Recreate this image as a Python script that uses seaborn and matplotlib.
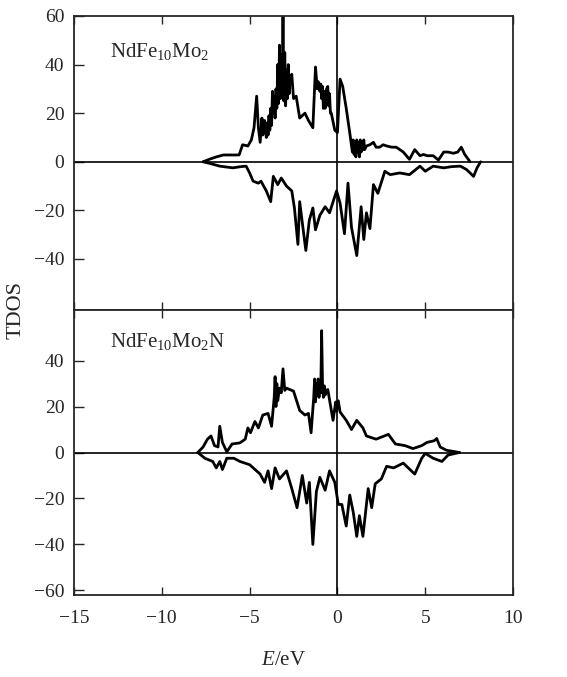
import matplotlib
matplotlib.use("Agg")
import matplotlib.pyplot as plt
import numpy as np
import pandas as pd
import seaborn as sns

# NdFe10Mo2 spin up
e_up1 = [-7.65, -7.3, -6.9, -6.5, -6.15, -5.6, -5.4, -5.1, -4.9, -4.75, -4.6, -4.5, -4.4, -4.3,
         -4.25, -4.15, -4.05, -4.0, -3.95, -3.9, -3.85, -3.8, -3.75, -3.7, -3.65, -3.6, -3.55,
         -3.5, -3.45, -3.4, -3.35, -3.3, -3.25, -3.2, -3.15, -3.1, -3.05, -3.0, -2.95, -2.9,
         -2.85, -2.8, -2.75, -2.7, -2.6, -2.5, -2.35, -2.15, -2.0, -1.85, -1.65, -1.4, -1.25,
         -1.15, -1.1, -1.0, -0.95, -0.9, -0.85, -0.8, -0.75, -0.7, -0.62, -0.55, -0.5, -0.45,
         -0.4, -0.35, -0.15, 0.0, 0.15, 0.3, 0.5, 0.7, 0.85, 0.9, 0.95, 1.0, 1.05, 1.1, 1.15,
         1.2, 1.25, 1.3, 1.35, 1.4, 1.45, 1.5, 1.55, 1.65, 1.85, 2.05, 2.2, 2.4, 2.6, 2.8, 3.1,
         3.35, 3.55, 3.75, 4.1, 4.4, 4.7, 4.9, 5.1, 5.45, 5.75, 6.05, 6.3, 6.6, 6.85, 7.05,
         7.25, 7.55]
dos_up1 = [0, 1.0, 2.0, 2.8, 2.8, 2.8, 7.0, 6.5, 9.0, 14, 27, 14, 8.0, 18, 11, 17, 10, 16, 11, 19,
           13, 22, 15, 29, 20, 27, 18, 30, 22, 40, 24, 48, 26, 44, 27, 60, 25, 45, 23, 38, 26,
           40, 28, 34, 36, 26, 27, 18, 19, 20, 17, 14, 39, 30, 33, 29, 32, 26, 31, 22, 29, 22,
           30, 31, 23, 28, 20, 20, 13, 12, 34, 31, 22, 12, 4, 9, 3, 8, 2, 9, 4, 8, 2, 9, 4, 8,
           5, 9, 5, 6.5, 7, 8, 6, 6, 7, 6.5, 6, 6, 5, 4, 1, 5, 2.5, 3, 2.5, 2.5, 0.7, 4, 4, 3.5,
           4, 6, 3, 0]

# NdFe10Mo2 spin down
e_dn1 = [-7.65, -7.2, -6.7, -5.95, -5.5, -5.2, -5.0, -4.8, -4.5, -4.35, -4.05, -3.8, -3.65, -3.4,
         -3.2, -2.9, -2.6, -2.45, -2.25, -2.15, -1.95, -1.8, -1.6, -1.4, -1.25, -1.0, -0.7,
         -0.45, -0.05, 0.15, 0.4, 0.6, 0.8, 1.1, 1.35, 1.5, 1.65, 1.85, 2.05, 2.3, 2.7, 3.0,
         3.55, 4.1, 4.7, 5.0, 5.45, 6.05, 6.5, 7.0, 7.35, 7.75, 7.95, 8.15]
dos_dn1 = [0, -0.8, -1.8, -2.5, -2.0, -1.8, -4.6, -8.0, -8.8, -8.0, -12, -16.4, -6.0, -9.4, -6.7,
           -10, -12, -19, -34, -16.4, -28, -36.5, -24, -19, -28, -22, -18.5, -21, -12, -17,
           -29.6, -8.8, -27, -38.6, -18.5, -32, -21, -27.5, -9.4, -13, -3.9, -5.3, -4.6, -5.3,
           -1.8, -3.9, -1.8, -2.5, -2.0, -1.8, -3.2, -6.0, -2.5, 0]

# NdFe10Mo2N spin up
e_up2 = [-7.95, -7.65, -7.4, -7.2, -7.0, -6.8, -6.7, -6.55, -6.3, -6.0, -5.55, -5.25, -5.1, -4.95,
         -4.7, -4.5, -4.25, -3.95, -3.75, -3.6, -3.55, -3.5, -3.45, -3.4, -3.3, -3.2, -3.1,
         -3.0, -2.9, -2.5, -2.15, -1.85, -1.65, -1.5, -1.35, -1.3, -1.25, -1.2, -1.15, -1.1,
         -1.05, -1.0, -0.95, -0.9, -0.85, -0.8, -0.75, -0.7, -0.65, -0.55, -0.25, -0.1, -0.05,
         0.05, 0.15, 0.5, 0.8, 1.1, 1.45, 1.65, 2.2, 2.9, 3.3, 3.85, 4.3, 4.8, 5.1, 5.5, 5.65,
         5.85, 6.2, 6.95]
dos_up2 = [0, 2.4, 5.8, 7.2, 3.0, 2.4, 11.4, 4.4, 0.3, 3.7, 4.2, 5.8, 10.7, 8.6, 13.5, 10.7, 16.3,
           17, 11.4, 24, 33, 20, 30, 22.5, 28, 26, 36.4, 27, 28, 26.7, 18.3, 16.3, 17, 8.6, 24,
           32, 22, 30, 25, 32, 24, 30, 26, 53, 30, 24, 29, 25, 27, 27.4, 14, 22, 18, 22.5, 17.6,
           14, 10, 14, 10.7, 7.2, 5.8, 7.9, 3.7, 3.0, 1.7, 3.0, 4.4, 5.1, 6.1, 2.4, 1.0, 0]

# NdFe10Mo2N spin down
e_dn2 = [-7.95, -7.55, -7.1, -6.9, -6.7, -6.55, -6.3, -5.9, -5.55, -5.0, -4.4, -4.15, -3.95, -3.75,
         -3.55, -3.3, -2.9, -2.6, -2.3, -2.0, -1.75, -1.6, -1.4, -1.2, -1.0, -0.7, -0.45, -0.15,
         0.05, 0.25, 0.5, 0.7, 0.9, 1.1, 1.25, 1.45, 1.75, 1.95, 2.15, 2.5, 2.8, 3.2, 3.75,
         4.4, 4.8, 5.0, 5.45, 5.95, 6.3, 6.95]
dos_dn2 = [0, -2.5, -3.9, -6.7, -3.9, -7.4, -2.5, -2.5, -3.9, -5.3, -9.4, -13, -8, -15.7, -6.7,
           -11.5, -8, -15.7, -24, -10, -22, -13, -40, -17, -10.8, -16.4, -8, -13, -22.6, -22.6,
           -32, -18.5, -26, -36.5, -27.5, -36.5, -15.7, -24, -13.6, -11.5, -6, -6.7, -4.6, -9.4,
           -2.5, -0.4, -2.5, -3.9, -1.1, 0]

labels = [r"NdFe$_{10}$Mo$_2$", r"NdFe$_{10}$Mo$_2$N"]

sns.set_style("ticks")
plt.rcParams["font.family"] = ["Liberation Serif", "DejaVu Serif"]
plt.rcParams["mathtext.fontset"] = "custom"
plt.rcParams["mathtext.rm"] = "Liberation Serif"
plt.rcParams["mathtext.it"] = "Liberation Serif:italic"

fig = plt.figure(figsize=(5.67, 6.77), dpi=100)
ax1 = fig.add_axes([0.1305, 0.5421, 0.7744, 0.4343])
ax2 = fig.add_axes([0.1305, 0.1211, 0.7744, 0.4210])

panels = [
    (ax1, e_up1, dos_up1, e_dn1, dos_dn1, (-61, 60), [-40, -20, 0, 20, 40, 60]),
    (ax2, e_up2, dos_up2, e_dn2, dos_dn2, (-62, 62), [-60, -40, -20, 0, 20, 40]),
]

for ax, eu, du, ed, dd, ylim, yt in panels:
    up = pd.DataFrame({"E": eu, "DOS": du})
    dn = pd.DataFrame({"E": ed, "DOS": dd})
    sns.lineplot(data=up, x="E", y="DOS", ax=ax, color="black", lw=2.0, estimator=None, sort=False)
    sns.lineplot(data=dn, x="E", y="DOS", ax=ax, color="black", lw=2.0, estimator=None, sort=False)
    ax.axhline(0, color="black", lw=1.2)
    ax.axvline(0, color="black", lw=1.2)
    ax.set_xlim(-15, 10)
    ax.set_ylim(*ylim)
    ax.set_yticks(yt)
    ax.set_xticks([-15, -10, -5, 0, 5, 10])
    ax.tick_params(axis="y", direction="in", length=7, width=1.0, labelsize=14, pad=7, right=False)
    ax.tick_params(axis="x", direction="in", length=6, width=1.0, labelsize=14, pad=11, top=True)
    ax.set_xlabel("")
    ax.set_ylabel("")
    for s in ax.spines.values():
        s.set_visible(True)
        s.set_linewidth(1.3)

ax1.text(0.082, 0.878, labels[0], transform=ax1.transAxes, fontsize=15, va="center")
ax2.text(0.082, 0.89, labels[1], transform=ax2.transAxes, fontsize=15, va="center")
ax1.tick_params(axis="x", labelbottom=False)

fig.text(0.028, 0.542, "TDOS", rotation=90, ha="center", va="center", fontsize=16)
fig.text(0.5, 0.025, r"$E$/eV", ha="center", va="center", fontsize=15)

fig.savefig("out.png", dpi=100)
